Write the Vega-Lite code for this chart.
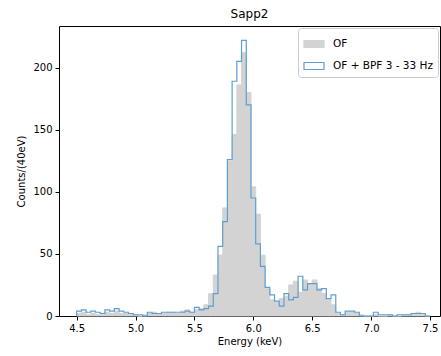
{
  "$schema": "https://vega.github.io/schema/vega-lite/v6.json",
  "width": 381,
  "height": 290,
  "autosize": "none",
  "padding": {"left": 59, "top": 26, "right": 1, "bottom": 40},
  "title": {"text": "Sapp2", "font": "DejaVu Sans", "fontSize": 12, "fontWeight": "normal", "color": "#000", "offset": 5},
  "config": {
    "view": {"stroke": "#000", "strokeWidth": 1},
    "axis": {"grid": false, "domain": false, "tickColor": "#000", "tickSize": 4, "labelFont": "DejaVu Sans", "labelFontSize": 10, "labelColor": "#000", "titleFont": "DejaVu Sans", "titleFontSize": 10, "titleFontWeight": "normal", "titleColor": "#000", "labelPadding": 3},
    "legend": {"orient": "top-right", "offset": 2, "padding": 5, "strokeColor": "#cccccc", "cornerRadius": 3, "fillColor": "rgba(255,255,255,0.85)", "labelFont": "DejaVu Sans", "labelFontSize": 10.5, "labelColor": "#000", "symbolType": "M-1,-0.35H1V0.35H-1Z", "symbolSize": 400, "symbolStrokeWidth": 1.2, "labelOffset": 8, "rowPadding": 5, "title": null}
  },
  "datasets": {
    "bins": [
      {"e0": 4.50, "e1": 4.54, "of": 2},
      {"e0": 4.54, "e1": 4.58, "of": 3},
      {"e0": 4.58, "e1": 4.62, "of": 1},
      {"e0": 4.62, "e1": 4.66, "of": 2},
      {"e0": 4.66, "e1": 4.70, "of": 1},
      {"e0": 4.70, "e1": 4.74, "of": 1},
      {"e0": 4.74, "e1": 4.78, "of": 3},
      {"e0": 4.78, "e1": 4.82, "of": 2},
      {"e0": 4.82, "e1": 4.86, "of": 4},
      {"e0": 4.86, "e1": 4.90, "of": 2},
      {"e0": 4.90, "e1": 4.94, "of": 2},
      {"e0": 4.94, "e1": 4.98, "of": 1},
      {"e0": 4.98, "e1": 5.02, "of": 1},
      {"e0": 5.02, "e1": 5.06, "of": 0},
      {"e0": 5.06, "e1": 5.10, "of": 1},
      {"e0": 5.10, "e1": 5.14, "of": 2},
      {"e0": 5.14, "e1": 5.18, "of": 3},
      {"e0": 5.18, "e1": 5.22, "of": 2},
      {"e0": 5.22, "e1": 5.26, "of": 2},
      {"e0": 5.26, "e1": 5.30, "of": 3},
      {"e0": 5.30, "e1": 5.34, "of": 3},
      {"e0": 5.34, "e1": 5.38, "of": 2},
      {"e0": 5.38, "e1": 5.42, "of": 4},
      {"e0": 5.42, "e1": 5.46, "of": 5},
      {"e0": 5.46, "e1": 5.50, "of": 3},
      {"e0": 5.50, "e1": 5.54, "of": 5},
      {"e0": 5.54, "e1": 5.58, "of": 6},
      {"e0": 5.58, "e1": 5.62, "of": 9},
      {"e0": 5.62, "e1": 5.66, "of": 18},
      {"e0": 5.66, "e1": 5.70, "of": 33},
      {"e0": 5.70, "e1": 5.74, "of": 49},
      {"e0": 5.74, "e1": 5.78, "of": 87},
      {"e0": 5.78, "e1": 5.82, "of": 125},
      {"e0": 5.82, "e1": 5.86, "of": 146},
      {"e0": 5.86, "e1": 5.90, "of": 186},
      {"e0": 5.90, "e1": 5.94, "of": 212},
      {"e0": 5.94, "e1": 5.98, "of": 180},
      {"e0": 5.98, "e1": 6.02, "of": 104},
      {"e0": 6.02, "e1": 6.06, "of": 82},
      {"e0": 6.06, "e1": 6.10, "of": 49},
      {"e0": 6.10, "e1": 6.14, "of": 22},
      {"e0": 6.14, "e1": 6.18, "of": 13},
      {"e0": 6.18, "e1": 6.22, "of": 11},
      {"e0": 6.22, "e1": 6.26, "of": 14},
      {"e0": 6.26, "e1": 6.30, "of": 16},
      {"e0": 6.30, "e1": 6.34, "of": 25},
      {"e0": 6.34, "e1": 6.38, "of": 28},
      {"e0": 6.38, "e1": 6.42, "of": 19},
      {"e0": 6.42, "e1": 6.46, "of": 29},
      {"e0": 6.46, "e1": 6.50, "of": 26},
      {"e0": 6.50, "e1": 6.54, "of": 29},
      {"e0": 6.54, "e1": 6.58, "of": 22},
      {"e0": 6.58, "e1": 6.62, "of": 18},
      {"e0": 6.62, "e1": 6.66, "of": 13},
      {"e0": 6.66, "e1": 6.70, "of": 9},
      {"e0": 6.70, "e1": 6.74, "of": 2},
      {"e0": 6.74, "e1": 6.78, "of": 1},
      {"e0": 6.78, "e1": 6.82, "of": 3},
      {"e0": 6.82, "e1": 6.86, "of": 3},
      {"e0": 6.86, "e1": 6.90, "of": 2},
      {"e0": 6.90, "e1": 6.94, "of": 1},
      {"e0": 6.94, "e1": 6.98, "of": 0},
      {"e0": 6.98, "e1": 7.02, "of": 0},
      {"e0": 7.02, "e1": 7.06, "of": 1},
      {"e0": 7.06, "e1": 7.10, "of": 0},
      {"e0": 7.10, "e1": 7.14, "of": 0},
      {"e0": 7.14, "e1": 7.18, "of": 1},
      {"e0": 7.18, "e1": 7.22, "of": 0},
      {"e0": 7.22, "e1": 7.26, "of": 0},
      {"e0": 7.26, "e1": 7.30, "of": 1},
      {"e0": 7.30, "e1": 7.34, "of": 1},
      {"e0": 7.34, "e1": 7.38, "of": 2},
      {"e0": 7.38, "e1": 7.42, "of": 3},
      {"e0": 7.42, "e1": 7.46, "of": 1},
      {"e0": 7.46, "e1": 7.50, "of": 0}
    ],
    "outline": [
      {"e0": 4.50, "bpf": 0, "k": 0},
      {"e0": 4.50, "bpf": 4, "k": 1},
      {"e0": 4.54, "bpf": 5, "k": 2},
      {"e0": 4.58, "bpf": 3, "k": 3},
      {"e0": 4.62, "bpf": 4, "k": 4},
      {"e0": 4.66, "bpf": 3, "k": 5},
      {"e0": 4.70, "bpf": 2, "k": 6},
      {"e0": 4.74, "bpf": 5, "k": 7},
      {"e0": 4.78, "bpf": 4, "k": 8},
      {"e0": 4.82, "bpf": 6, "k": 9},
      {"e0": 4.86, "bpf": 4, "k": 10},
      {"e0": 4.90, "bpf": 3, "k": 11},
      {"e0": 4.94, "bpf": 2, "k": 12},
      {"e0": 4.98, "bpf": 1, "k": 13},
      {"e0": 5.02, "bpf": 1, "k": 14},
      {"e0": 5.06, "bpf": 0, "k": 15},
      {"e0": 5.10, "bpf": 3, "k": 16},
      {"e0": 5.14, "bpf": 2, "k": 17},
      {"e0": 5.18, "bpf": 2, "k": 18},
      {"e0": 5.22, "bpf": 3, "k": 19},
      {"e0": 5.26, "bpf": 3, "k": 20},
      {"e0": 5.30, "bpf": 3, "k": 21},
      {"e0": 5.34, "bpf": 3, "k": 22},
      {"e0": 5.38, "bpf": 3, "k": 23},
      {"e0": 5.42, "bpf": 4, "k": 24},
      {"e0": 5.46, "bpf": 3, "k": 25},
      {"e0": 5.50, "bpf": 7, "k": 26},
      {"e0": 5.54, "bpf": 5, "k": 27},
      {"e0": 5.58, "bpf": 6, "k": 28},
      {"e0": 5.62, "bpf": 8, "k": 29},
      {"e0": 5.66, "bpf": 18, "k": 30},
      {"e0": 5.70, "bpf": 56, "k": 31},
      {"e0": 5.74, "bpf": 76, "k": 32},
      {"e0": 5.78, "bpf": 126, "k": 33},
      {"e0": 5.82, "bpf": 189, "k": 34},
      {"e0": 5.86, "bpf": 205, "k": 35},
      {"e0": 5.90, "bpf": 222, "k": 36},
      {"e0": 5.94, "bpf": 170, "k": 37},
      {"e0": 5.98, "bpf": 95, "k": 38},
      {"e0": 6.02, "bpf": 58, "k": 39},
      {"e0": 6.06, "bpf": 40, "k": 40},
      {"e0": 6.10, "bpf": 23, "k": 41},
      {"e0": 6.14, "bpf": 17, "k": 42},
      {"e0": 6.18, "bpf": 12, "k": 43},
      {"e0": 6.22, "bpf": 8, "k": 44},
      {"e0": 6.26, "bpf": 18, "k": 45},
      {"e0": 6.30, "bpf": 13, "k": 46},
      {"e0": 6.34, "bpf": 15, "k": 47},
      {"e0": 6.38, "bpf": 32, "k": 48},
      {"e0": 6.42, "bpf": 21, "k": 49},
      {"e0": 6.46, "bpf": 26, "k": 50},
      {"e0": 6.50, "bpf": 26, "k": 51},
      {"e0": 6.54, "bpf": 21, "k": 52},
      {"e0": 6.58, "bpf": 22, "k": 53},
      {"e0": 6.62, "bpf": 14, "k": 54},
      {"e0": 6.66, "bpf": 17, "k": 55},
      {"e0": 6.70, "bpf": 3, "k": 56},
      {"e0": 6.74, "bpf": 1, "k": 57},
      {"e0": 6.78, "bpf": 4, "k": 58},
      {"e0": 6.82, "bpf": 4, "k": 59},
      {"e0": 6.86, "bpf": 3, "k": 60},
      {"e0": 6.90, "bpf": 0, "k": 61},
      {"e0": 6.94, "bpf": 0, "k": 62},
      {"e0": 6.98, "bpf": 0, "k": 63},
      {"e0": 7.02, "bpf": 3, "k": 64},
      {"e0": 7.06, "bpf": 1, "k": 65},
      {"e0": 7.10, "bpf": 1, "k": 66},
      {"e0": 7.14, "bpf": 1, "k": 67},
      {"e0": 7.18, "bpf": 0, "k": 68},
      {"e0": 7.22, "bpf": 1, "k": 69},
      {"e0": 7.26, "bpf": 1, "k": 70},
      {"e0": 7.30, "bpf": 1, "k": 71},
      {"e0": 7.34, "bpf": 2, "k": 72},
      {"e0": 7.38, "bpf": 2, "k": 73},
      {"e0": 7.42, "bpf": 2, "k": 74},
      {"e0": 7.46, "bpf": 0, "k": 75},
      {"e0": 7.50, "bpf": 0, "k": 76}
    ]
  },
  "encoding": {
    "x": {"field": "e0", "type": "quantitative", "scale": {"domain": [4.35, 7.585], "nice": false, "zero": false}, "axis": {"title": "Energy (keV)", "values": [4.5, 5.0, 5.5, 6.0, 6.5, 7.0, 7.5], "format": ".1f", "titlePadding": 3}},
    "y": {"type": "quantitative", "scale": {"domain": [0, 233.5], "nice": false}, "axis": {"title": "Counts/(40eV)", "values": [0, 50, 100, 150, 200], "titlePadding": 6}}
  },
  "layer": [
    {
      "data": {"name": "bins"},
      "mark": {"type": "rect", "stroke": "#d3d3d3", "strokeWidth": 1},
      "encoding": {
        "x2": {"field": "e1"},
        "y": {"field": "of", "type": "quantitative"},
        "y2": {"datum": 0},
        "fill": {"datum": "OF", "scale": {"domain": ["OF", "OF + BPF 3 - 33 Hz"], "range": ["#d3d3d3", "#ffffff"]}, "legend": {"title": null}}
      }
    },
    {
      "data": {"name": "outline"},
      "mark": {"type": "line", "interpolate": "step-after", "strokeWidth": 1.2},
      "encoding": {
        "y": {"field": "bpf", "type": "quantitative"},
        "order": {"field": "k", "type": "quantitative"},
        "stroke": {"datum": "OF + BPF 3 - 33 Hz", "scale": {"domain": ["OF", "OF + BPF 3 - 33 Hz"], "range": ["#d3d3d3", "#5e9fd2"]}, "legend": {"title": null}}
      }
    }
  ]
}
